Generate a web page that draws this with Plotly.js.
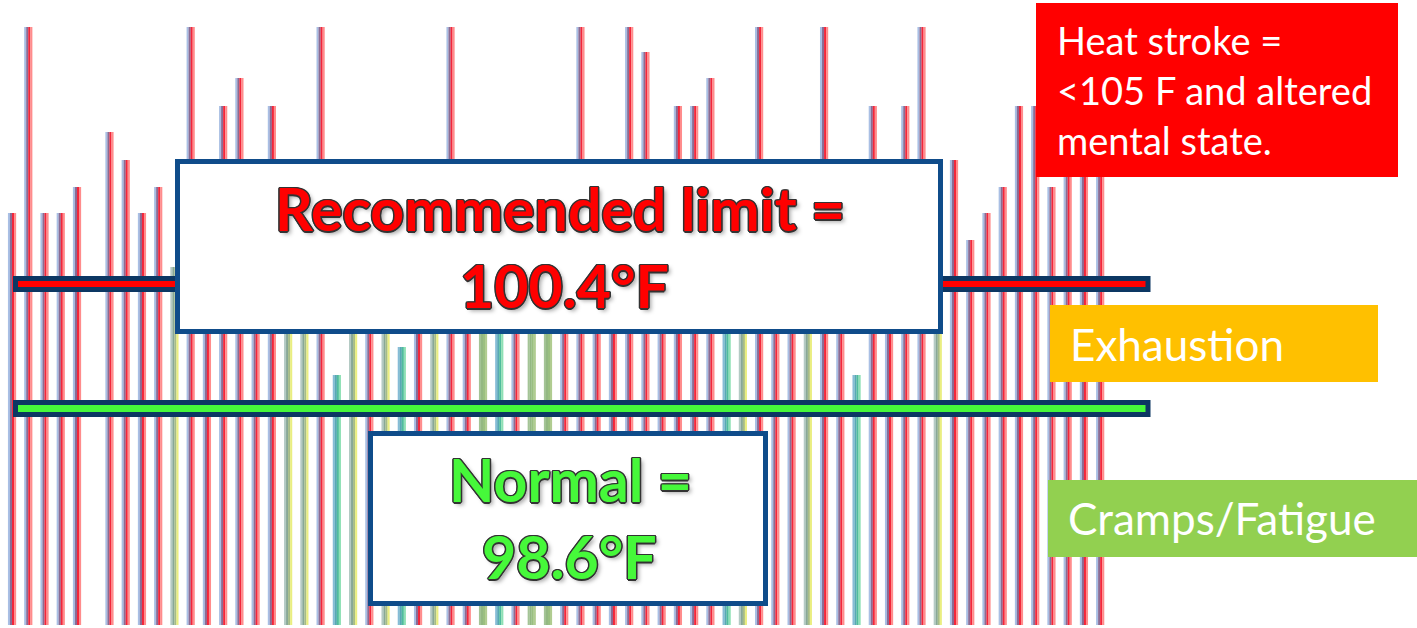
<!DOCTYPE html>
<html>
<head>
<meta charset="utf-8">
<script src="https://cdn.plot.ly/plotly-3.0.1.min.js"></script>
<style>html,body{margin:0;padding:0;background:#fff;}#chart{width:1417px;height:628px;}</style>
</head>
<body>
<div id="chart"></div>
<script>
// ---- data ----
const categories = [0,1,2,3,4,5,6,7,8,9,10,11,12,13,14,15,16,17,18,19,20,21,22,23,24,25,26,27,28,29,30,31,32,33,34,35,36,37,38,39,40,41,42,43,44,45,46,47,48,49,50,51,52,53,54,55,56,57,58,59,60,61,62,63,64,65,66,67];
const values = [412,598,412,412,438,0,493,465,412,438,358,598,385,519,547,412,519,358,358,598,250,325,385,325,278,412,325,598,412,325,325,412,325,325,412,598,438,412,598,573,438,519,519,547,325,325,598,412,438,325,598,412,250,519,438,519,598,325,465,385,412,438,519,519,438,519,519,519];
const barTypes = ['r','r','r','r','r','r','r','r','r','r','y','r','r','r','r','r','r','y','y','r','t','y','r','y','t','r','y','r','r','g','t','r','g','g','r','r','r','r','r','r','r','r','r','r','t','y','r','r','r','y','r','r','t','r','r','r','r','y','r','r','r','r','r','r','r','r','r','r'];
const labelRecommended = ['Recommended limit =', '100.4°F'];
const labelNormal = ['Normal =', '98.6°F'];
const labelHeat = ['Heat stroke =', '&lt;105 F and altered', 'mental state.'];
const labelExhaustion = 'Exhaustion';
const labelCramps = 'Cramps/Fatigue';

// ---- styling ----
const palette = {
  r: ['#a9bfe4', '#8a6c94', '#f3263a', '#ff8c8c'],
  y: ['#b4cac4', '#88a896', '#a6bc86', '#eaee80'],
  t: ['#86bcd6', '#58a8b4', '#4fbc9c', '#8ee0b4'],
  g: ['#a4c496', '#93b882', '#9abf80', '#b0cc90']
};
const W = 1417, H = 628, PH = 625;
const X = px => px / W;
const Y = py => 1 - py / PH;

const traces = [0,1,2,3].map(k => ({
  type: 'bar',
  x: categories,
  y: values,
  offset: -0.25 + k * 0.125,
  width: 0.13,
  marker: { color: barTypes.map(t => palette[t][k]), line: { width: 0 } },
  hoverinfo: 'skip',
  showlegend: false
}));

function rect(x0, y0, x1, y1, fill, lineColor, lw) {
  return { type: 'rect', xref: 'paper', yref: 'paper', layer: 'above',
    x0: X(x0), x1: X(x1), y0: Y(y1), y1: Y(y0),
    fillcolor: fill, line: { color: lineColor || 'rgba(0,0,0,0)', width: lw || 0 } };
}

const shapes = [
  rect(15.5, 278.5, 1148, 289.5, '#ff0000', '#0c3763', 5),
  rect(15.5, 402.5, 1148, 414.5, '#46f83a', '#0c3763', 5),
  rect(177.5, 161.5, 940.5, 331.5, '#ffffff', '#0f4c8a', 5),
  rect(370.5, 433.5, 765.5, 603.5, '#ffffff', '#0f4c8a', 5),
  rect(1036, 3, 1398, 177, '#ff0000'),
  rect(1050, 305, 1378, 382, '#ffc000'),
  rect(1048, 480, 1417, 557, '#92d050')
];

const outline = '-1px -1px 0 #333, 1px -1px 0 #333, -1px 1px 0 #333, 1px 1px 0 #333, 0 1.5px 0 #333, 0 -1.5px 0 #333, 1.5px 0 0 #333, -1.5px 0 0 #333, 3px 3px 4px rgba(0,0,0,0.35)';
function ann(text, cx, cy, opts) {
  return Object.assign({ xref: 'paper', yref: 'paper', x: X(cx), y: Y(cy), text: text,
    showarrow: false, xanchor: 'center', yanchor: 'middle' }, opts);
}
const bigRed = { font: { family: 'Lato', size: 59, color: '#ff0000', weight: 700, shadow: outline } };
const bigGreen = { font: { family: 'Lato', size: 59, color: '#46f83a', weight: 700, shadow: outline } };
const white = size => ({ font: { family: 'Lato', size: size, color: '#ffffff' }, xanchor: 'left' });

const annotations = [
  ann(labelRecommended[0], 560, 208, bigRed),
  ann(labelRecommended[1], 564, 285, bigRed),
  ann(labelNormal[0], 570, 479, bigGreen),
  ann(labelNormal[1], 569, 556, bigGreen),
  ann(labelHeat[0], 1055, 40, white(38)),
  ann(labelHeat[1], 1055, 90, white(38)),
  ann(labelHeat[2], 1055, 140, white(38)),
  ann(labelExhaustion, 1068, 344, white(44)),
  ann(labelCramps, 1066, 518, white(44))
];

const layout = {
  width: W, height: H,
  margin: { l: 0, r: 0, t: 0, b: H - PH, pad: 0 },
  paper_bgcolor: '#ffffff', plot_bgcolor: '#ffffff',
  barmode: 'overlay',
  xaxis: { range: [-0.739, 86.51], visible: false, fixedrange: true },
  yaxis: { range: [0, 625], visible: false, fixedrange: true },
  showlegend: false,
  shapes: shapes,
  annotations: annotations
};
Plotly.newPlot('chart', traces, layout, { staticPlot: true, displayModeBar: false });
</script>
</body>
</html>
